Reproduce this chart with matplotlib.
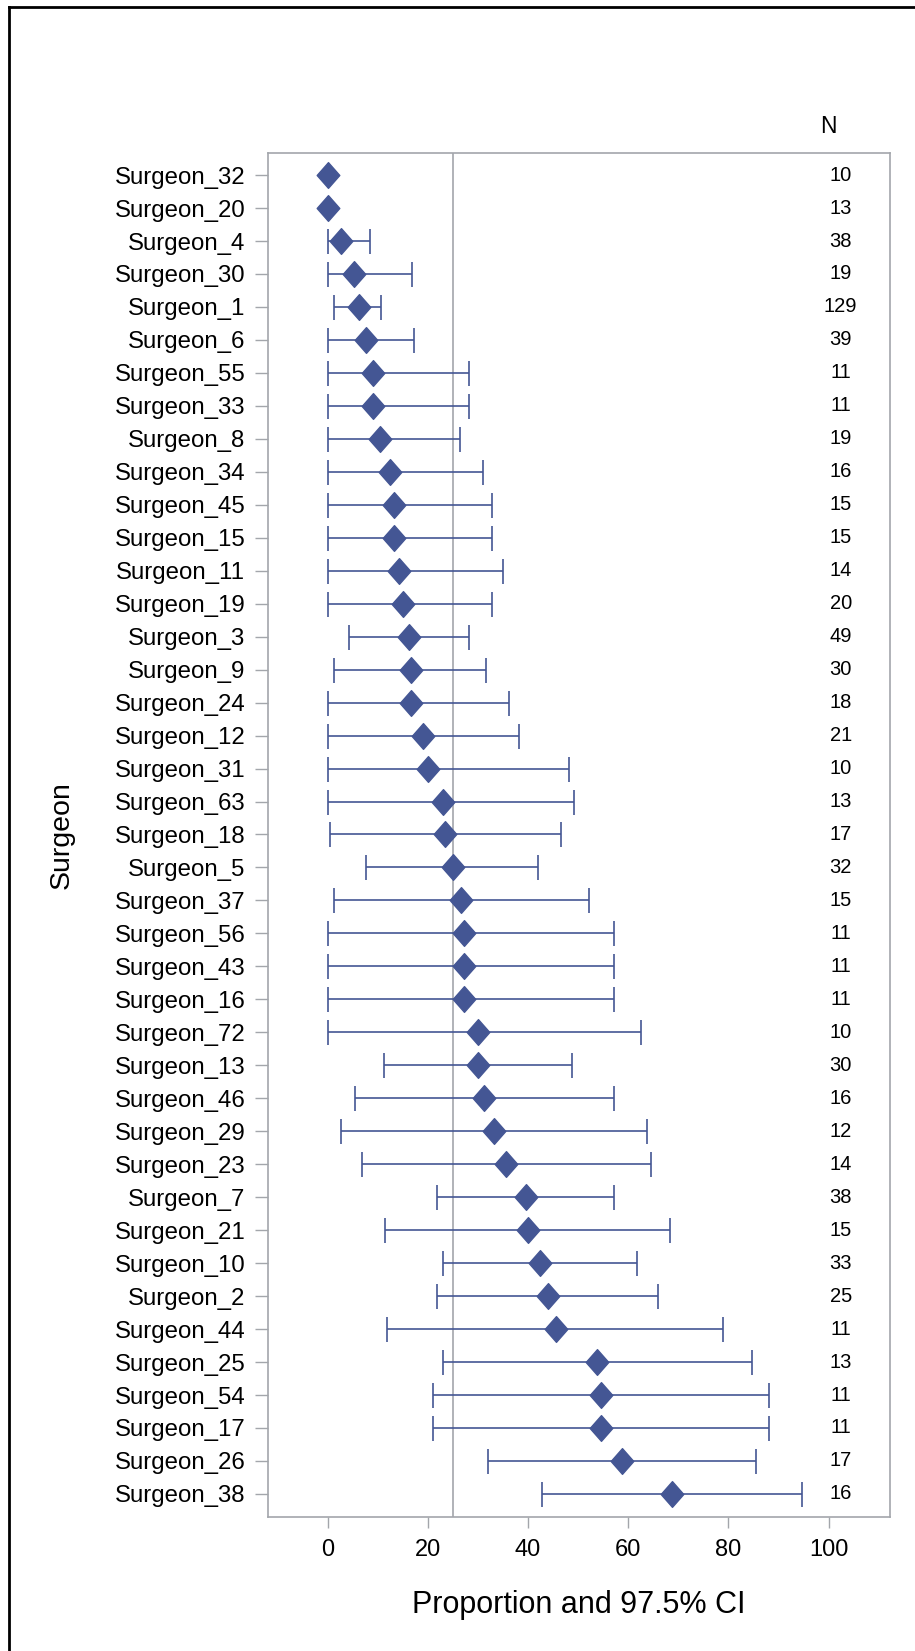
import matplotlib
matplotlib.use("Agg")
import matplotlib.pyplot as plt
from matplotlib.lines import Line2D
from matplotlib.path import Path
import numpy as np

plt.rcParams["font.family"] = ["Liberation Sans", "DejaVu Sans"]

# surgeons sorted by proportion (top row first)
surgeons = [
    "Surgeon_32", "Surgeon_20", "Surgeon_4", "Surgeon_30", "Surgeon_1",
    "Surgeon_6", "Surgeon_55", "Surgeon_33", "Surgeon_8", "Surgeon_34",
    "Surgeon_45", "Surgeon_15", "Surgeon_11", "Surgeon_19", "Surgeon_3",
    "Surgeon_9", "Surgeon_24", "Surgeon_12", "Surgeon_31", "Surgeon_63",
    "Surgeon_18", "Surgeon_5", "Surgeon_37", "Surgeon_56", "Surgeon_43",
    "Surgeon_16", "Surgeon_72", "Surgeon_13", "Surgeon_46", "Surgeon_29",
    "Surgeon_23", "Surgeon_7", "Surgeon_21", "Surgeon_10", "Surgeon_2",
    "Surgeon_44", "Surgeon_25", "Surgeon_54", "Surgeon_17", "Surgeon_26",
    "Surgeon_38",
]
proportion = [
    0, 0, 2.6, 5.3, 6.2, 7.7, 9.1, 9.1, 10.5, 12.5,
    13.3, 13.3, 14.3, 15.0, 16.3, 16.7, 16.7, 19.0, 20.0, 23.1,
    23.5, 25.0, 26.7, 27.3, 27.3, 27.3, 30.0, 30.0, 31.3, 33.3,
    35.7, 39.5, 40.0, 42.4, 44.0, 45.5, 53.8, 54.5, 54.5, 58.8,
    68.8,
]
ci_lower = [
    0, 0, 0, 0, 1.2, 0, 0, 0, 0, 0,
    0, 0, 0, 0, 4.2, 1.2, 0, 0, 0, 0,
    0.4, 7.6, 1.2, 0, 0, 0, 0, 11.2, 5.4, 2.7,
    6.9, 21.8, 11.5, 23.0, 21.8, 11.8, 23.0, 21.0, 21.0, 32.1,
    42.8,
]
ci_upper = [
    0, 0, 8.5, 16.8, 10.7, 17.2, 28.3, 28.3, 26.4, 31.0,
    32.8, 32.8, 35.1, 32.8, 28.3, 31.6, 36.2, 38.2, 48.1, 49.2,
    46.6, 42.0, 52.2, 57.2, 57.2, 57.2, 62.5, 48.8, 57.2, 63.7,
    64.5, 57.2, 68.4, 61.8, 66.0, 78.9, 84.7, 88.0, 88.0, 85.4,
    94.6,
]
n_cases = [
    10, 13, 38, 19, 129, 39, 11, 11, 19, 16,
    15, 15, 14, 20, 49, 30, 18, 21, 10, 13,
    17, 32, 15, 11, 11, 11, 10, 30, 16, 12,
    14, 38, 15, 33, 25, 11, 13, 11, 11, 17,
    16,
]
ref_value = 25

W, H = 915, 1651
fig = plt.figure(figsize=(W / 100, H / 100), dpi=100)
ax_left, ax_width = 267.5 / W, 622.3 / W
ax = fig.add_axes([ax_left, 1 - 1517 / H, ax_width, 1363.7 / H])

blue = "#445694"
gray = "#a3a6ab"

y = np.arange(len(surgeons))
prop = np.array(proportion, dtype=float)
err = np.vstack([prop - np.array(ci_lower), np.array(ci_upper) - prop])

ax.axvline(ref_value, color=gray, lw=1.2, zorder=1)
ax.errorbar(prop, y, xerr=err, fmt="none", ecolor=blue, elinewidth=1.2,
            capsize=9, capthick=1.2, zorder=2)

# slightly tall diamond
diamond = Path([(0, 1), (0.88, 0), (0, -1), (-0.88, 0), (0, 1)],
               [Path.MOVETO, Path.LINETO, Path.LINETO, Path.LINETO, Path.CLOSEPOLY])
ax.plot(prop, y, linestyle="none", marker=diamond, markersize=18.5,
        color=blue, markeredgecolor=blue, zorder=3)

for yi, n in zip(y, n_cases):
    ax.text(102.4, yi, str(n), ha="center", va="center", fontsize=14.5)
ax.text(100.0, 1.02, "N", transform=ax.get_xaxis_transform(),
        ha="center", va="center", fontsize=16.5)

ax.set_xlim(-12.0, 112.2)
ax.set_ylim(40.70, -0.66)
ax.set_xticks([0, 20, 40, 60, 80, 100])
ax.set_yticks(y)
ax.set_yticklabels(surgeons)

for side in ax.spines.values():
    side.set_color(gray)
    side.set_linewidth(1.2)
ax.tick_params(axis="y", length=9.5, width=1.0, color=gray, pad=6.5,
               labelsize=17.3)
ax.tick_params(axis="x", length=8, width=1.0, color=gray, pad=8,
               labelsize=17)

ax.set_xlabel("Proportion and 97.5% CI", fontsize=22, labelpad=21)
ax.set_ylabel("Surgeon", fontsize=20.5)
ax.yaxis.set_label_coords((75 - 267.5) / 622.3, 0.5)

# outer frame (left and top edges)
fig.add_artist(Line2D([9 / W, 9 / W], [0, 1 - 7 / H], color="black",
                      lw=2, transform=fig.transFigure))
fig.add_artist(Line2D([9 / W, 1], [1 - 7 / H, 1 - 7 / H], color="black",
                      lw=2, transform=fig.transFigure))

fig.savefig("out.png", dpi=100)
